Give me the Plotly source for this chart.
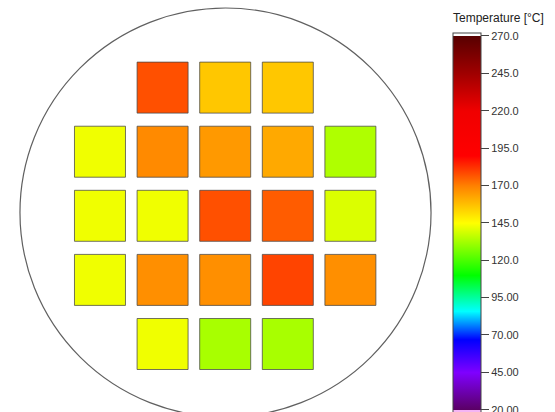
import plotly.graph_objects as go

# Die grid positions (column / row index on the wafer) and measured temperatures
die_cols = [-1, 0, 1,
            -2, -1, 0, 1, 2,
            -2, -1, 0, 1, 2,
            -2, -1, 0, 1, 2,
            -1, 0, 1]
die_rows = [2, 2, 2,
            1, 1, 1, 1, 1,
            0, 0, 0, 0, 0,
            -1, -1, -1, -1, -1,
            -2, -2, -2]
temps = [177.5, 156.0, 156.0,
         143.0, 168.0, 165.0, 162.0, 134.0,
         143.0, 143.0, 177.5, 175.6, 140.0,
         143.0, 167.0, 167.0, 179.4, 167.0,
         143.0, 133.0, 133.0]

tick_vals = [270, 245, 220, 195, 170, 145, 120, 95, 70, 45, 20]
tick_text = ["270.0", "245.0", "220.0", "195.0", "170.0", "145.0",
             "120.0", "95.00", "70.00", "45.00", "20.00"]

T_MIN, T_MAX = 20.0, 270.0
C_LO, C_HI = 18.0, 272.2  # includes under/over range bands

def f(v):
    return (v - C_LO) / (C_HI - C_LO)

stops = [
    (C_LO, "#f4b4f4"), (T_MIN - 0.01, "#f4b4f4"),
    (T_MIN, "#5a0064"), (45, "#7f00ff"), (67, "#0000ff"), (86, "#00ffff"),
    (110, "#00ff00"), (145, "#ffff00"), (170, "#ff8000"), (190, "#ff0000"),
    (220, "#f00000"), (245, "#a00000"), (T_MAX, "#580000"),
    (T_MAX + 0.01, "#ffffff"), (C_HI, "#ffffff"),
]
colorscale = [[f(v), c] for v, c in stops]
colorscale[0][0] = 0.0
colorscale[-1][0] = 1.0

W, H = 555, 412
FONT = "Liberation Sans, Arial, sans-serif"

fig = go.Figure()
fig.add_trace(go.Scatter(
    x=die_cols, y=die_rows, mode="markers",
    marker=dict(
        symbol="square", size=51, color=temps,
        colorscale=colorscale, cmin=C_LO, cmax=C_HI,
        line=dict(width=1, color="rgba(70,70,70,0.75)"),
        showscale=True,
        colorbar=dict(
            x=453 / W, xanchor="left", xpad=0, ypad=0,
            y=1 - 32.7 / H, yanchor="top",
            len=380, lenmode="pixels",
            thickness=28, thicknessmode="pixels",
            outlinewidth=1, outlinecolor="#444444",
            tickmode="array", tickvals=tick_vals, ticktext=tick_text,
            ticks="outside", ticklen=8, tickwidth=1, tickcolor="#444444",
            ticklabeloverflow="allow",
            tickfont=dict(family=FONT, size=11, color="#333333"),
        ),
    ),
    hovertemplate="%{marker.color:.1f} °C<extra></extra>",
))

fig.add_annotation(
    text="Temperature [°C]", xref="paper", yref="paper",
    x=451 / W, y=1 - 18 / H, xanchor="left", yanchor="middle",
    showarrow=False, font=dict(family=FONT, size=12, color="#222222"),
)

fig.add_shape(type="circle", xref="x", yref="y",
              x0=-3.278, x1=3.288, y0=-3.139, y1=3.242,
              line=dict(color="#606060", width=1.2), layer="below")

fig.update_xaxes(visible=False, range=[-3.597, 5.268], fixedrange=True)
fig.update_yaxes(visible=False, range=[-3.061, 3.367], fixedrange=True)
fig.update_layout(
    width=W, height=H, autosize=False,
    margin=dict(l=0, r=0, t=0, b=0, autoexpand=False),
    plot_bgcolor="white", paper_bgcolor="white", showlegend=False,
)
fig.write_html("out.html", config={"displayModeBar": False},
               post_script="document.body.style.margin='0px';document.body.style.overflow='hidden';")
